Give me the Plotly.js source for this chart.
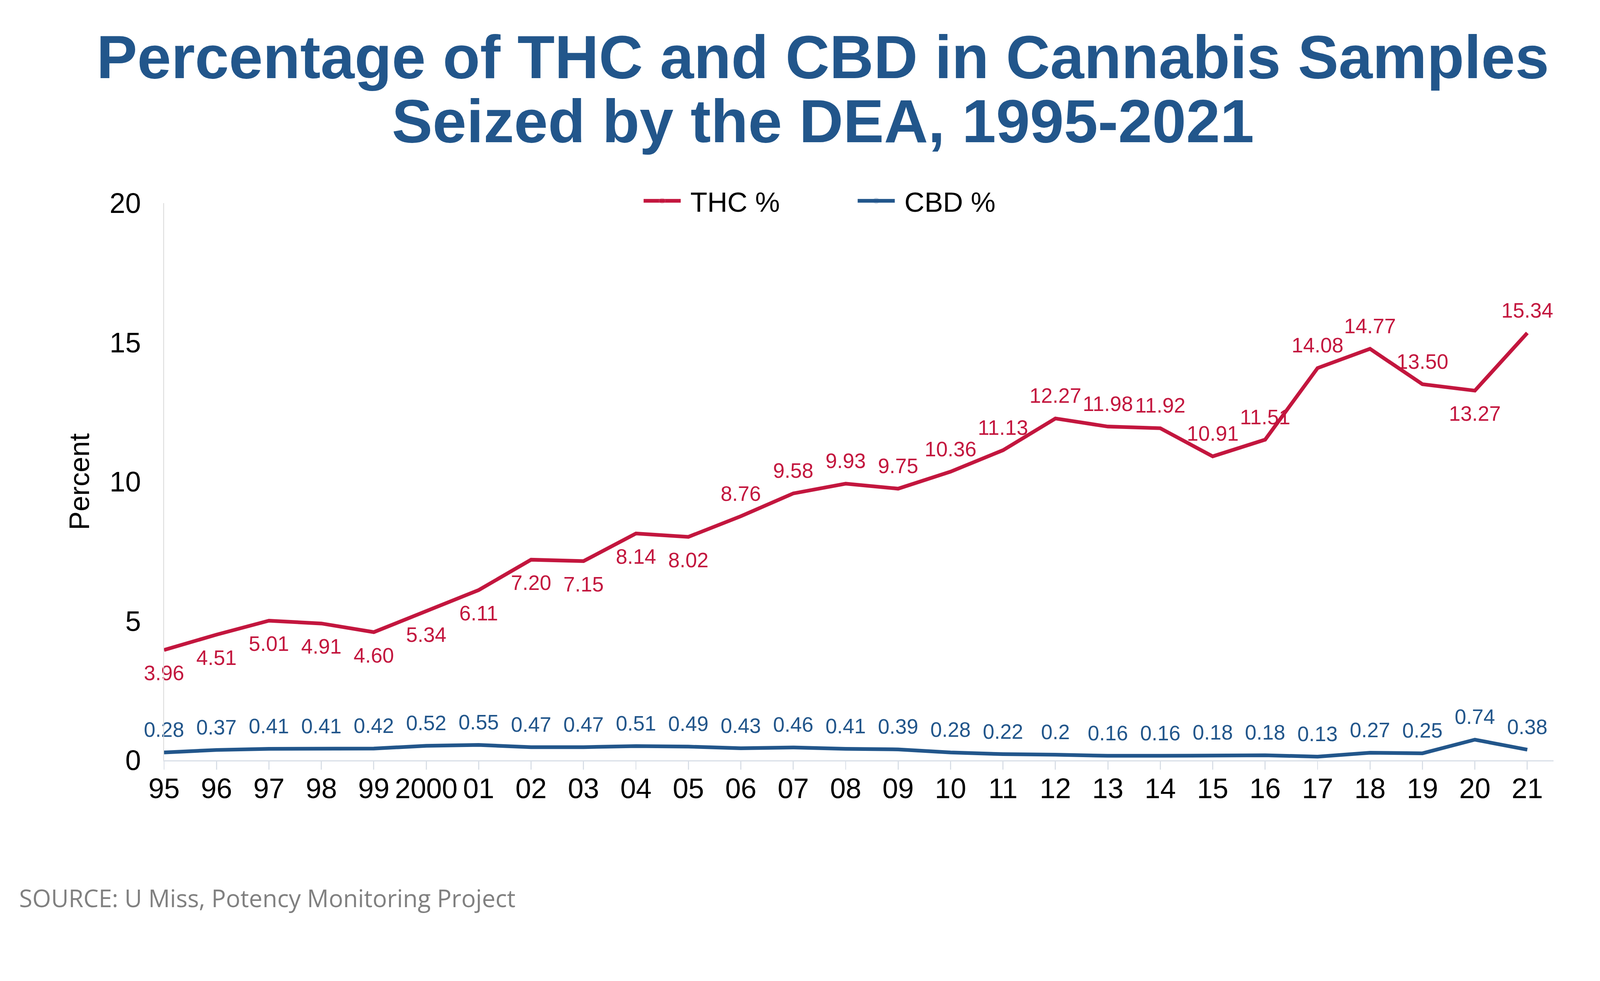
<!DOCTYPE html>
<html>
<head>
<meta charset="utf-8">
<script src="https://cdn.plot.ly/plotly-3.0.1.min.js"></script>
<style>
  html, body { margin: 0; padding: 0; background: #ffffff; overflow: hidden; }
</style>
</head>
<body>
<div id="chart"></div>
<script>
// ---- data ----
const years = ['95','96','97','98','99','2000','01','02','03','04','05','06','07','08','09','10','11','12','13','14','15','16','17','18','19','20','21'];
const thcValues = [3.96,4.51,5.01,4.91,4.60,5.34,6.11,7.20,7.15,8.14,8.02,8.76,9.58,9.93,9.75,10.36,11.13,12.27,11.98,11.92,10.91,11.51,14.08,14.77,13.50,13.27,15.34];
const thcLabels = ['3.96','4.51','5.01','4.91','4.60','5.34','6.11','7.20','7.15','8.14','8.02','8.76','9.58','9.93','9.75','10.36','11.13','12.27','11.98','11.92','10.91','11.51','14.08','14.77','13.50','13.27','15.34'];
const cbdValues = [0.28,0.37,0.41,0.41,0.42,0.52,0.55,0.47,0.47,0.51,0.49,0.43,0.46,0.41,0.39,0.28,0.22,0.2,0.16,0.16,0.18,0.18,0.13,0.27,0.25,0.74,0.38];
const cbdLabels = ['0.28','0.37','0.41','0.41','0.42','0.52','0.55','0.47','0.47','0.51','0.49','0.43','0.46','0.41','0.39','0.28','0.22','0.2','0.16','0.16','0.18','0.18','0.13','0.27','0.25','0.74','0.38'];
// label placement of THC values (t = above the line, b = below)
const thcLabelSide = ['b','b','b','b','b','b','b','b','b','b','b','t','t','t','t','t','t','t','t','t','t','t','t','t','t','b','t'];

// ---- layout geometry (designed for 4322 x 2511, scaled to the viewport) ----
const BASE_W = 4322, BASE_H = 2511;
const vw = window.innerWidth || BASE_W, vh = window.innerHeight || BASE_H;
const s = Math.min(vw / BASE_W, vh / BASE_H, 1);
const S = v => v * s;
const R = v => Math.round(v * s);
const W = BASE_W * s, H = BASE_H * s;
const M = { l: S(443), r: S(126), t: S(549), b: S(458) };
const plotW = W - M.l - M.r, plotH = H - M.t - M.b;
const px2x = px => (S(px) - M.l) / plotW;
const py2y = py => (H - M.b - S(py)) / plotH;

document.getElementById('chart').style.width = W + 'px';
document.getElementById('chart').style.height = H + 'px';

const BLUE = '#22568B';
const RED = '#C3163E';
const FONT = 'Liberation Sans, Arial, sans-serif';
const LABEL_FS = S(56);
const TOP_SIZE = S(43), BOTTOM_SIZE = S(62);

const thc = {
  type: 'scatter', mode: 'lines+markers+text', name: '\u00a0THC %',
  x: years, y: thcValues, text: thcLabels,
  textposition: thcLabelSide.map(v => v === 't' ? 'top center' : 'bottom center'),
  textfont: { family: FONT, size: LABEL_FS, color: RED },
  line: { color: RED, width: S(10) },
  marker: { size: thcLabelSide.map(v => v === 't' ? TOP_SIZE : BOTTOM_SIZE), opacity: 0, color: RED },
  cliponaxis: false, hoverinfo: 'skip'
};
const cbd = {
  type: 'scatter', mode: 'lines+markers+text', name: '\u00a0CBD %',
  x: years, y: cbdValues, text: cbdLabels,
  textposition: 'top center',
  textfont: { family: FONT, size: LABEL_FS, color: BLUE },
  line: { color: BLUE, width: S(10) },
  marker: { size: TOP_SIZE, opacity: 0, color: BLUE },
  cliponaxis: false, hoverinfo: 'skip'
};

const layout = {
  width: W, height: H,
  margin: M,
  paper_bgcolor: '#ffffff', plot_bgcolor: '#ffffff',
  font: { family: FONT, color: '#000000' },
  showlegend: true,
  legend: {
    orientation: 'h', x: px2x(1733), y: py2y(543), xanchor: 'left', yanchor: 'middle',
    font: { size: S(75), color: '#000000' }, bgcolor: 'rgba(0,0,0,0)',
    itemwidth: Math.max(30, R(100)), entrywidth: R(462), entrywidthmode: 'pixels', traceorder: 'normal'
  },
  xaxis: {
    type: 'category', range: [0, 26.5],
    showgrid: false, zeroline: false,
    showline: true, linecolor: '#D9DFE7', linewidth: S(3),
    ticks: 'outside', ticklen: S(22), tickwidth: S(3), tickcolor: '#D9DFE7',
    tickfont: { size: S(76), color: '#000000' }, ticklabelstandoff: R(-14),
    fixedrange: true
  },
  yaxis: {
    range: [0, 20], tickvals: [0, 5, 10, 15, 20],
    showgrid: false, zeroline: false,
    showline: true, linecolor: '#D9D9D9', linewidth: S(2),
    ticks: '', tickfont: { size: S(76), color: '#000000' }, ticklabelstandoff: R(45),
    title: { text: 'Percent', font: { size: S(76), color: '#000000' }, standoff: R(30) },
    fixedrange: true
  },
  annotations: [
    { text: '<b>Percentage of THC and CBD in Cannabis Samples</b>', xref: 'paper', yref: 'paper',
      x: px2x(2222), y: py2y(154), xanchor: 'center', yanchor: 'middle', showarrow: false,
      font: { family: FONT, size: S(165), color: BLUE } },
    { text: '<b>Seized by the DEA, 1995-2021</b>', xref: 'paper', yref: 'paper',
      x: px2x(2222), y: py2y(327), xanchor: 'center', yanchor: 'middle', showarrow: false,
      font: { family: FONT, size: S(165), color: BLUE } },
    { text: 'SOURCE: U Miss, Potency Monitoring Project', xref: 'paper', yref: 'paper',
      x: px2x(49), y: py2y(2424), xanchor: 'left', yanchor: 'middle', showarrow: false,
      font: { family: 'Open Sans, sans-serif', size: S(65), color: '#808080' } }
  ]
};

Plotly.newPlot('chart', [thc, cbd], layout, { staticPlot: true, displayModeBar: false });
</script>
</body>
</html>
